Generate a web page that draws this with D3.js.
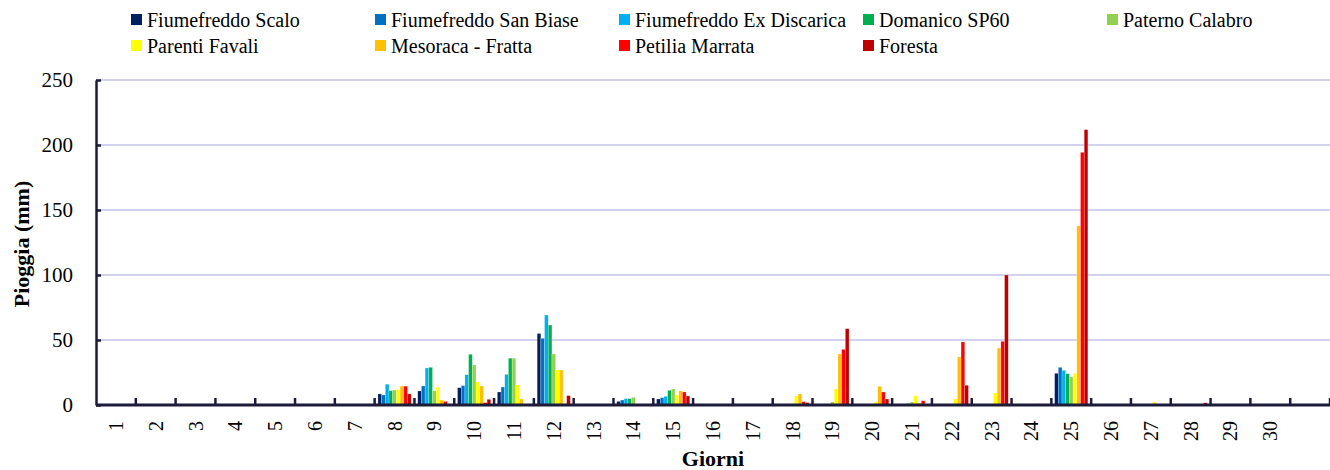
<!DOCTYPE html>
<html><head><meta charset="utf-8">
<script src="https://cdn.jsdelivr.net/npm/d3@7"></script>
<style>
html,body{margin:0;padding:0;background:#fff;}
text{font-family:"Liberation Serif","Times New Roman",serif;fill:#000;}
</style></head>
<body><svg id="chart" width="1330" height="470"></svg>
<script>
// ---- data ----
const days = d3.range(1, 32);
const dayLabels = ["1","2","3","4","5","6","7","8","9","10","11","12","13","14","15","16","17","18","19","20","21","22","23","24","25","26","27","28","29","30",""];
const seriesNames = ["Fiumefreddo Scalo","Fiumefreddo San Biase","Fiumefreddo Ex Discarica","Domanico SP60","Paterno Calabro","Parenti Favali","Mesoraca - Fratta","Petilia Marrata","Foresta"];
const seriesColors = ["#002060","#0070C0","#00B0F0","#00B050","#92D050","#FFFF00","#FFC000","#FF0000","#C00000"];
//                       1 2 3 4 5 6 7   8    9    10   11   12   13 14  15   16 17 18  19   20  21  22   23  24 25    26 27 28 29 30 31
const fiumefreddoScalo = [0,0,0,0,0,0,0, 8.5, 10.8,13.3,10,  55,  0, 2.8,4.6, 0,0, 0,  0,   0,  0,  0,   0,  0, 24.4, 0,0,0,0,0,0];
const fiumefreddoSanBiase=[0,0,0,0,0,0,0,7.7, 14.6,14.9,13.8,51.3,0, 3.8,5.6, 0,0, 0,  0,   0,  0,  0,   0,  0, 29,   0,0,0,0,0,0];
const fiumefreddoExDisc = [0,0,0,0,0,0,0, 16,  28.5,23.3,23.6,69.2,0, 4.9,6.7, 0,0, 0,  0,   0,  0,  0,   0,  0, 26.7, 0,0,0,0,0,0];
const domanicoSP60     = [0,0,0,0,0,0,0, 11,  29,  39,  36,  61.5,0, 4.9,11.3,0,0, 0,  0,   0,  1,  0,   0,  0, 24.1, 0,0,0,0,0,0];
const paternoCalabro   = [0,0,0,0,0,0,0, 11.5,11,  30.8,36,  39.2,0, 5.9,12.3,0,0, 0,  2.3, 0,  2.3,0,   0,  0, 21.6, 0,0,0,0,0,0];
const parentiFavali    = [0,0,0,0,0,0,0, 12,  13.8,17.7,15.4,26.9,0, 0,  7.7, 0,0, 6.9,12.3,2.3,7.2,4.6, 9.2,0, 24.4, 0,2.3,0,0,0,0];
const mesoracaFratta   = [0,0,0,0,0,0,0, 14.5,3.8, 14.6,4.6, 26.9,0, 0,  10.8,0,0, 8.5,39.2,14.4,1.5,37, 43.8,1, 137.7,0,0,0,0,0,0];
const petiliaMarrata   = [0,0,0,0,0,0,0.4,14.5,2.8, 1.8, 0,   0.8, 0, 0,  10,  0,0, 2.6,42.8,10, 3.3,48.5,49, 0, 194.4,0,0,0,0,0,0];
const foresta          = [0,0,0,0,0,0,0.5,8.5, 0,   4.4, 0,   7.2, 0, 0,  6.9, 0,0, 1.8,58.7,4.6,0,  15.2,100,0, 211.8,0,0,1.7,0,0,0];
const seriesValues = [fiumefreddoScalo,fiumefreddoSanBiase,fiumefreddoExDisc,domanicoSP60,paternoCalabro,parentiFavali,mesoracaFratta,petiliaMarrata,foresta];
const yTicks = [0,50,100,150,200,250];

// ---- layout ----
const svg = d3.select("#chart");
const L = 96, R = 1330, T = 80, B = 405;
const axisColor = "#1c1c3a";

const x0 = d3.scaleBand().domain(days).range([L, R]).paddingInner(0.165).paddingOuter(0.0825);
const x1 = d3.scaleBand().domain(d3.range(seriesNames.length)).range([0, x0.bandwidth()]);
const y = d3.scaleLinear().domain([0, 250]).range([B, T]);

// gridlines
svg.append("g").selectAll("line").data(yTicks.filter(d => d > 0)).join("line")
  .attr("x1", L).attr("x2", R).attr("y1", d => y(d)).attr("y2", d => y(d))
  .attr("stroke", "#d2d2f0").attr("stroke-width", 2);

// bars
const rows = [];
days.forEach((d, i) => seriesValues.forEach((vals, s) => { if (vals[i] > 0) rows.push({day: d, s, v: vals[i]}); }));
svg.append("g").selectAll("rect").data(rows).join("rect")
  .attr("x", d => x0(d.day) + x1(d.s))
  .attr("width", x1.bandwidth())
  .attr("y", d => y(d.v))
  .attr("height", d => y(0) - y(d.v))
  .attr("fill", d => seriesColors[d.s])
  .attr("stroke", "rgba(255,255,255,0.45)").attr("stroke-width", 0.5);

// y axis
const yAxis = d3.axisLeft(y).tickValues(yTicks).tickSizeInner(-5).tickSizeOuter(0).tickPadding(23);
const gy = svg.append("g").attr("transform", `translate(${L},0)`).call(yAxis);
gy.select(".domain").attr("stroke", axisColor).attr("stroke-width", 2.5);
gy.selectAll(".tick line").attr("stroke", axisColor).attr("stroke-width", 2.5);
gy.selectAll(".tick text").attr("font-size", 21).attr("font-family", "Liberation Serif").attr("fill", "#000");

// x axis line + ticks at band boundaries
const step = x0.step();
const boundaries = days.map(d => x0(d) - x0.paddingOuter() * 0 ); // placeholder not used
svg.append("line").attr("x1", L).attr("x2", R).attr("y1", B).attr("y2", B)
  .attr("stroke", axisColor).attr("stroke-width", 3);
svg.append("g").selectAll("line").data(days).join("line")
  .attr("x1", d => x0(d) - x0.step() * x0.paddingOuter() + step)
  .attr("x2", d => x0(d) - x0.step() * x0.paddingOuter() + step)
  .attr("y1", B).attr("y2", B - 7)
  .attr("stroke", axisColor).attr("stroke-width", 2.5);

// x tick labels
svg.append("g").selectAll("text").data(days).join("text")
  .attr("transform", d => `translate(${x0(d) + x0.bandwidth() / 2},421) rotate(-90)`)
  .attr("text-anchor", "end").attr("dominant-baseline", "central")
  .attr("font-size", 20).text((d, i) => dayLabels[i]);

// axis titles
svg.append("text").attr("transform", "translate(21,244) rotate(-90)")
  .attr("text-anchor", "middle").attr("dominant-baseline", "central")
  .attr("font-size", 22).attr("font-weight", "bold").text("Pioggia (mm)");
svg.append("text").attr("x", 713).attr("y", 466).attr("text-anchor", "middle")
  .attr("font-size", 22).attr("font-weight", "bold").text("Giorni");

// legend
const legendX = [131, 375, 619, 863, 1107];
const legendY = [20, 46];
const lg = svg.append("g").selectAll("g").data(seriesNames).join("g")
  .attr("transform", (d, i) => `translate(${legendX[i % 5]},${legendY[Math.floor(i / 5)]})`);
lg.append("rect").attr("x", 0).attr("y", -6).attr("width", 11).attr("height", 11)
  .attr("fill", (d, i) => seriesColors[i]);
lg.append("text").attr("x", 16).attr("y", 0).attr("dominant-baseline", "central")
  .attr("font-size", 20).text(d => d);
</script></body></html>
